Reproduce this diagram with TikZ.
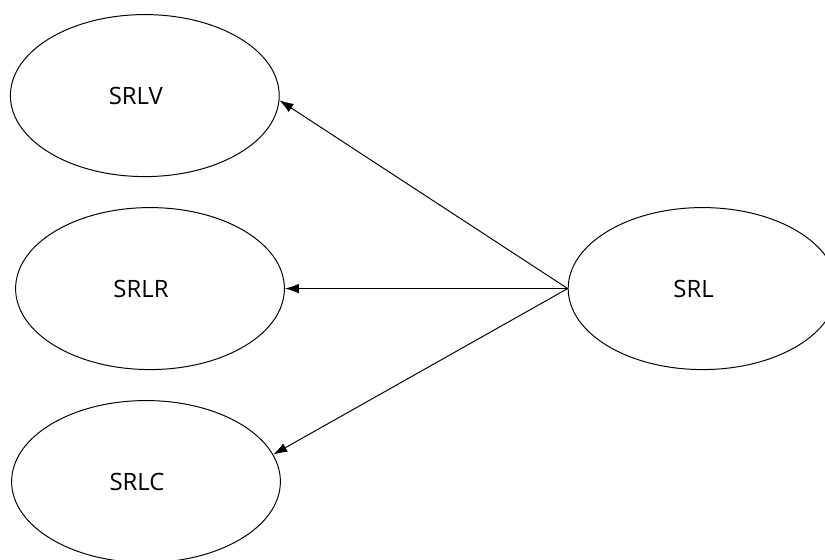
\documentclass[tikz,border=0pt]{standalone}
\usepackage{fontspec}
\setsansfont{Open Sans}
\usetikzlibrary{shapes.geometric,positioning,arrows.meta}

\begin{document}
\begin{tikzpicture}[auto,node distance=0.75cm,
                main/.style = {ellipse, draw, minimum width=6.72cm, minimum height=4.05cm, inner sep=0pt,
                               font=\sffamily\fontsize{17}{20}\selectfont,
                               execute at end node={\hspace*{0.45cm}}},
                every path/.style = {line width=0.7pt}]
                \useasboundingbox (0,0) rectangle (20.625,14);
                \node[main] (srlv) at (3.62,11.61) {SRLV};
                \node[main] (srlr) [below=0.75cm of srlv, xshift=0.13cm] {SRLR};
                \node[main] (srlc) [below=0.75cm of srlr, xshift=-0.1cm] {SRLC};
                \node[main] (srl) [right=7.07cm of srlr] {SRL};
                \path[-{Latex[length=3.5mm,width=2.4mm]}]
                    (srl.west) edge (srlv.-2)
                    (srl.west) edge (srlr.east)
                    (srl.west) edge (srlc.12);
            \end{tikzpicture}
\end{document}
